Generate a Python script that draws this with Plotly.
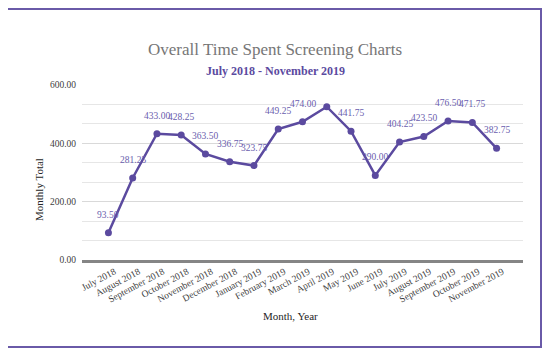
import plotly.graph_objects as go

months = ["July 2018", "August 2018", "September 2018", "October 2018", "November 2018",
          "December 2018", "January 2019", "February 2019", "March 2019", "April 2019",
          "May 2019", "June 2019", "July 2019", "August 2019", "September 2019",
          "October 2019", "November 2019"]
totals = [93.50, 281.25, 433.00, 428.25, 363.50, 336.75, 323.75, 449.25, 474.00, 525.50,
          441.75, 290.00, 404.25, 423.50, 476.50, 471.75, 382.75]
labels = ["93.50", "281.25", "433.00", "428.25", "363.50", "336.75", "323.75", "449.25",
          "474.00", "", "441.75", "290.00", "404.25", "423.50", "476.50", "471.75", "382.75"]
y_ticks = [0, 200, 400, 600]
y_tick_text = ["0.00", "200.00", "400.00", "600.00"]

PURPLE = "#5b4a9f"
SERIF = "Liberation Serif, Times New Roman, serif"

# page body has an 8px margin, so the figure is 8px smaller than the window
W, H = 542, 345
PL, PR, PT, PB = 82, 523, 85, 260  # plot area in page pixels
PW, PH = PR - PL, PB - PT


def px(x):
    return (x - PL) / PW


def py(y):
    return (PB - y) / PH


fig = go.Figure()
fig.add_trace(go.Scatter(
    x=months, y=totals, mode="lines+markers",
    line=dict(color=PURPLE, width=2.5),
    marker=dict(color=PURPLE, size=7),
    hoverinfo="skip", showlegend=False,
))

for m, v, t in zip(months, totals, labels):
    if t:
        fig.add_annotation(x=m, y=v, text=t, showarrow=False, yshift=18,
                           font=dict(family=SERIF, size=9.5, color="#6a5eae"))

fig.update_layout(
    width=W, height=H,
    margin=dict(l=PL - 8, r=W - (PR - 8), t=PT - 8, b=H - (PB - 8)),
    paper_bgcolor="white", plot_bgcolor="white",
    font=dict(family=SERIF, color="#404040"),
)
fig.update_xaxes(
    type="category", tickangle=-28, tickfont=dict(size=9.5, color="#404040"),
    showgrid=False, showline=True, linecolor="#858585", linewidth=2.5,
    ticks="", ticklen=0, ticklabelshift=6,
)
fig.update_yaxes(
    range=[0, 600], tickvals=y_ticks, ticktext=y_tick_text,
    tickfont=dict(size=9.5, color="#404040"),
    showgrid=True, gridcolor="#d9d9d9", gridwidth=1, zeroline=False,
    minor=dict(tickvals=[66.67, 133.33, 266.67, 333.33, 466.67, 533.33],
               showgrid=True, gridcolor="#e6e6e6", gridwidth=1),
    ticks="", ticklabelstandoff=5,
)

# titles
fig.add_annotation(xref="paper", yref="paper", x=px(275), y=py(38),
                   text="Overall Time Spent Screening Charts", showarrow=False,
                   font=dict(family=SERIF, size=17, color="#767676"))
fig.add_annotation(xref="paper", yref="paper", x=px(275), y=py(62),
                   text="<b>July 2018 - November 2019</b>", showarrow=False,
                   font=dict(family=SERIF, size=12, color=PURPLE))
fig.add_annotation(xref="paper", yref="paper", x=px(290), y=py(324),
                   text="Month, Year", showarrow=False,
                   font=dict(family=SERIF, size=11, color="#262626"))
fig.add_annotation(xref="paper", yref="paper", x=px(31), y=py(190),
                   text="Monthly Total", showarrow=False, textangle=-90,
                   font=dict(family=SERIF, size=11, color="#262626"))

# border
fig.add_shape(type="rect", xref="paper", yref="paper",
              x0=px(7), x1=px(541), y0=py(347), y1=py(9),
              line=dict(color="#6a5aa8", width=2), layer="below")

fig.write_html("out.html")
